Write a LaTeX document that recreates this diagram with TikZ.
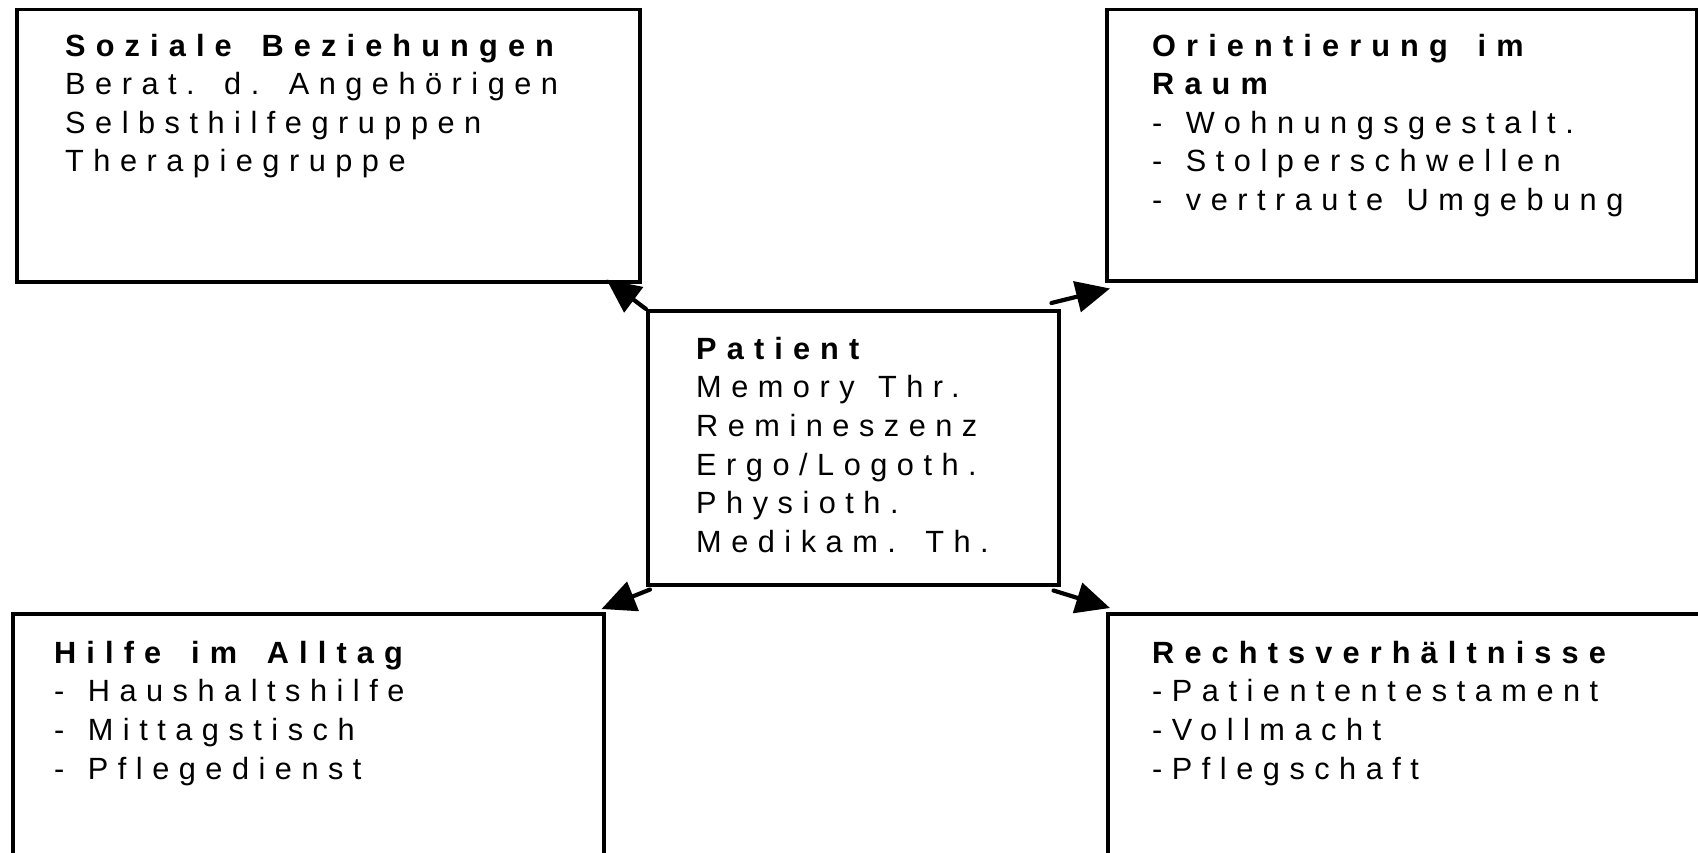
\documentclass[tikz,border=0pt]{standalone}
\usepackage{fontspec}
\setmainfont{Liberation Sans}[LetterSpace=31,WordSpace=1.3,Ligatures=NoCommon,
  BoldFeatures={LetterSpace=33,WordSpace=1.6}]
\usetikzlibrary{arrows.meta,calc}

\begin{document}
\begin{tikzpicture}[x=1pt,y=-1pt,
  panel/.style={draw=black,line width=3.5pt,fill=white,inner sep=0pt,anchor=north west},
  blocktext/.style={anchor=north west,inner sep=0pt,align=left,
    font={\fontsize{30.7}{38.6}\selectfont}},
  link/.style={line width=4.2pt,line cap=round,
    -{Triangle[length=34pt,width=31pt]}}
]
% canvas
\clip (0,0) rectangle (1698,853);
\fill[white] (0,0) rectangle (1698,853);

% outer panels
\node[panel,minimum width=623pt,minimum height=272pt] (soz) at (15,8) {};
\node[panel,minimum width=590pt,minimum height=271pt] (ori) at (1105,8) {};
\node[panel,minimum width=591pt,minimum height=300pt] (hil) at (11,612) {};
\node[panel,minimum width=640pt,minimum height=300pt] (rec) at (1106,612) {};
% central panel
\node[panel,minimum width=411pt,minimum height=274pt] (pat) at (646,309) {};

% panel texts (first line strut fixes the top-to-baseline distance)
\node[blocktext] (sozt) at (65,26) {\rule{0pt}{30pt}\textbf{Soziale Beziehungen}\\
  Berat. d. Angehörigen\\ Selbsthilfegruppen\\ Therapiegruppe};
\node[blocktext] (orit) at (1152,26) {\rule{0pt}{30pt}\textbf{Orientierung im}\\
  \textbf{Raum}\\ - Wohnungsgestalt.\\ - Stolperschwellen\\ - vertraute Umgebung};
\node[blocktext] (patt) at (696,329) {\rule{0pt}{30pt}\textbf{Patient}\\
  Memory Thr.\\ Remineszenz\\ Ergo/Logoth.\\ Physioth.\\ Medikam. Th.};
\node[blocktext] (hilt) at (54,633) {\rule{0pt}{30pt}\textbf{Hilfe im Alltag}\\
  - Haushaltshilfe\\ - Mittagstisch\\ - Pflegedienst};
\node[blocktext] (rect) at (1152,633) {\rule{0pt}{30pt}\textbf{Rechtsverhältnisse}\\
  -Patiententestament\\ -Vollmacht\\ -Pflegschaft};

% arrows from the patient to the four areas
\draw[link] (pat.north west) -- ($(soz.south east)+(-35,-4)$);
\draw[link] ($(pat.north east)+(-9,-6)$) -- ($(ori.south west)+(5,6)$);
\draw[link] ($(pat.south west)+(4,3)$) -- ($(hil.north east)+(-4,-3)$);
\draw[link] ($(pat.south east)+(-7,4)$) -- ($(rec.north west)+(4,-4)$);
\end{tikzpicture}
\end{document}
